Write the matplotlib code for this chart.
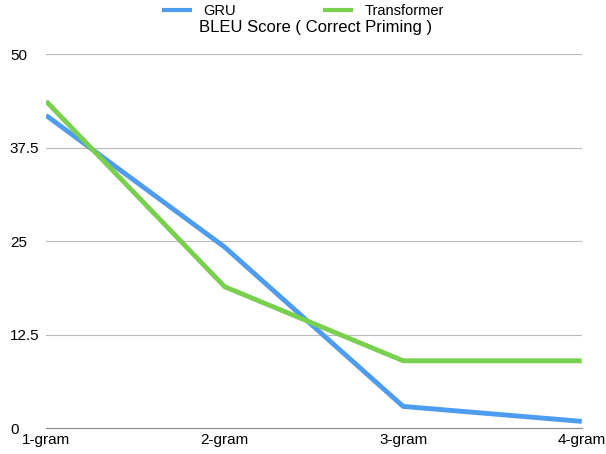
import matplotlib
matplotlib.use('Agg')
import matplotlib.pyplot as plt

categories = ['1-gram', '2-gram', '3-gram', '4-gram']
gru = [41.8, 24.2, 2.9, 0.9]
transformer = [43.7, 18.9, 9.0, 9.0]
yticks = [0, 12.5, 25, 37.5, 50]
ytick_labels = ['0', '12.5', '25', '37.5', '50']

plt.rcParams['font.family'] = ['Liberation Sans', 'DejaVu Sans']

fig = plt.figure(figsize=(6.06, 4.54), dpi=100)
ax = fig.add_axes([0.076, 0.057, 0.884, 0.824])

x = range(len(categories))
ax.plot(x, gru, color='#4e9cf0', lw=3.5, label='GRU', solid_capstyle='butt')
ax.plot(x, transformer, color='#78d04e', lw=3.5, label='Transformer', solid_capstyle='butt')

ax.set_xlim(0, 3)
ax.set_ylim(0, 50)
ax.set_yticks(yticks)
ax.set_yticklabels(ytick_labels, fontsize=11)
ax.set_xticks(list(x))
ax.set_xticklabels(categories, fontsize=11)
for s in ['top', 'right', 'left']:
    ax.spines[s].set_visible(False)
ax.spines['bottom'].set_color('#888888')
ax.tick_params(axis='both', length=0)
ax.tick_params(axis='y', pad=26)
for lab in ax.get_yticklabels():
    lab.set_horizontalalignment('left')
ax.grid(axis='y', color='#bbbbbb', lw=0.8)
ax.set_axisbelow(True)

fig.text(0.52, 0.94, 'BLEU Score ( Correct Priming )', ha='center', va='center', fontsize=12)
fig.legend(loc='upper center', bbox_to_anchor=(0.5, 1.02), ncol=2, frameon=False,
           fontsize=10.5, handlelength=2.0, columnspacing=6)
for h in fig.legends[0].get_lines():
    h.set_linewidth(3)

fig.savefig('out.png', dpi=100)
